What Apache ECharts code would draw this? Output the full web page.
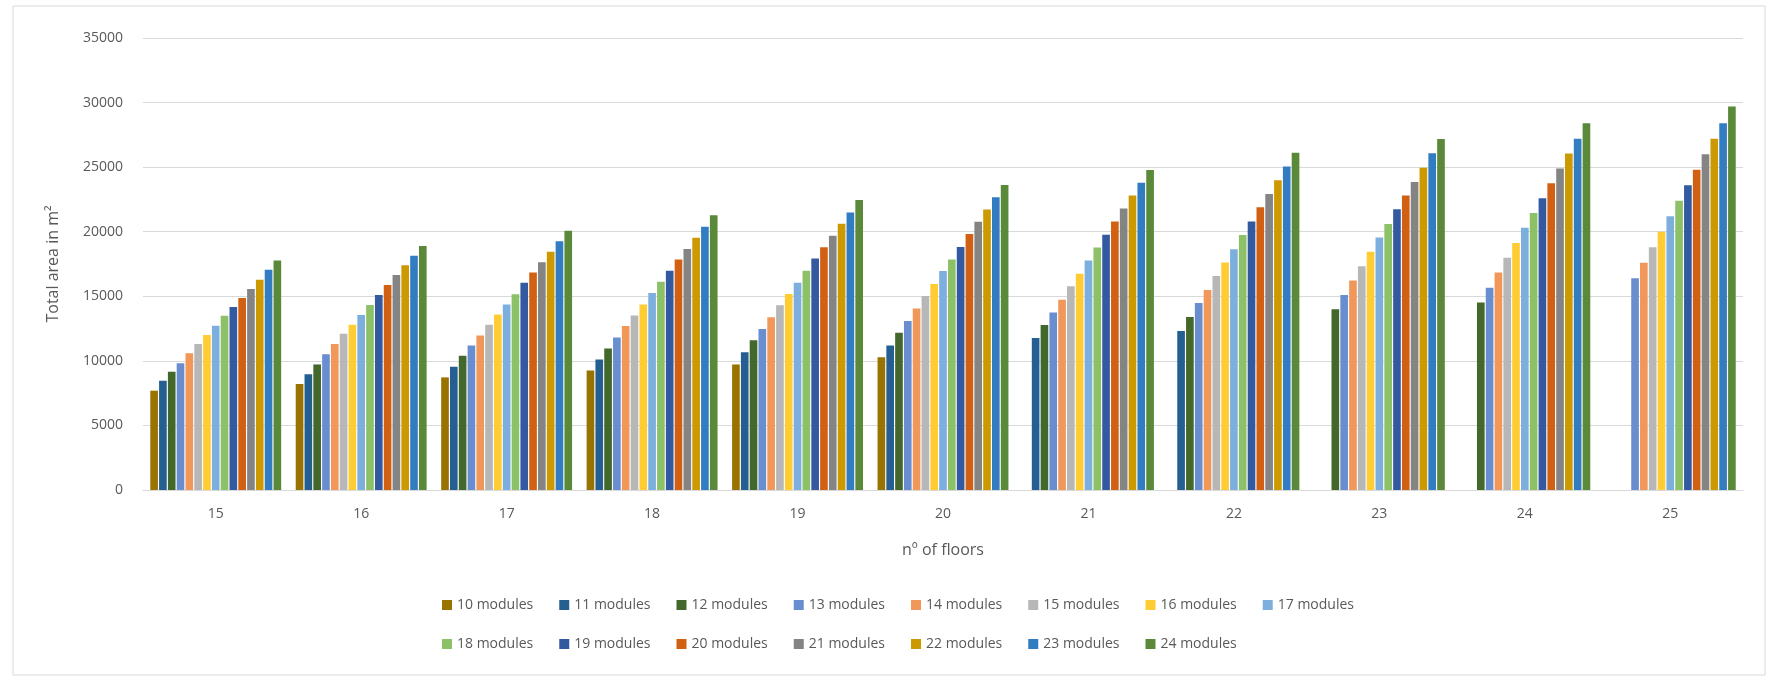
<!DOCTYPE html>
<html>
<head>
<meta charset="utf-8">
<script src="https://cdn.jsdelivr.net/npm/echarts@6/dist/echarts.min.js"></script>
<style>
html,body{margin:0;padding:0;background:#fff;}
#chart{width:1777px;height:682px;}
</style>
</head>
<body>
<div id="chart"></div>
<script>
const categories = ['15','16','17','18','19','20','21','22','23','24','25'];
const seriesNames = ['10 modules','11 modules','12 modules','13 modules','14 modules','15 modules','16 modules','17 modules','18 modules','19 modules','20 modules','21 modules','22 modules','23 modules','24 modules'];
const colors = ['#997300','#255E91','#43682B','#698ED0','#F1975A','#B7B7B7','#FFCD33','#7CAFDD','#8CC168','#335AA1','#D26012','#848484','#CC9A00','#327DC2','#5A8A39'];

const m10 = [7690, 8210, 8720, 9260, 9720, 10280, null, null, null, null, null];
const m11 = [8460, 8970, 9540, 10100, 10670, 11180, 11770, 12310, null, null, null];
const m12 = [9150, 9720, 10390, 10950, 11590, 12180, 12770, 13390, 13990, 14520, null];
const m13 = [9820, 10510, 11180, 11800, 12460, 13080, 13740, 14480, 15100, 15660, 16400];
const m14 = [10590, 11310, 11970, 12690, 13370, 14050, 14740, 15490, 16220, 16850, 17600];
const m15 = [11310, 12100, 12800, 13510, 14310, 15030, 15770, 16580, 17330, 17980, 18800];
const m16 = [12000, 12800, 13590, 14360, 15180, 15950, 16740, 17620, 18450, 19120, 20000];
const m17 = [12720, 13560, 14360, 15260, 16050, 16950, 17770, 18650, 19560, 20310, 21200];
const m18 = [13490, 14330, 15150, 16130, 16970, 17850, 18770, 19740, 20600, 21450, 22400];
const m19 = [14180, 15100, 16050, 16970, 17920, 18820, 19770, 20800, 21740, 22600, 23600];
const m20 = [14870, 15870, 16850, 17850, 18800, 19820, 20800, 21890, 22800, 23750, 24800];
const m21 = [15560, 16640, 17640, 18670, 19690, 20770, 21800, 22930, 23850, 24900, 26000];
const m22 = [16280, 17410, 18440, 19540, 20620, 21720, 22800, 23990, 24960, 26050, 27200];
const m23 = [17050, 18130, 19260, 20390, 21490, 22670, 23800, 25050, 26070, 27200, 28400];
const m24 = [17770, 18900, 20080, 21280, 22460, 23620, 24770, 26110, 27180, 28400, 29700];

const allData = [m10,m11,m12,m13,m14,m15,m16,m17,m18,m19,m20,m21,m22,m23,m24];

const FONT = 'Open Sans';
const series = allData.map((d, i) => ({
  name: seriesNames[i],
  type: 'bar',
  data: d,
  barGap: '15%',
  barCategoryGap: '10%',
  itemStyle: { color: colors[i] },
  emphasis: { disabled: true }
}));

const legendCommon = {
  left: 437,
  itemWidth: 10,
  itemHeight: 10,
  itemGap: 26,
  icon: 'rect',
  textStyle: { fontFamily: FONT, fontSize: 14, color: '#595959' },
  selectedMode: false
};

const chart = echarts.init(document.getElementById('chart'), null, { renderer: 'canvas' });
chart.setOption({
  animation: false,
  color: colors,
  textStyle: { fontFamily: FONT },
  graphic: [{
    type: 'rect',
    shape: { x: 13, y: 6, width: 1752, height: 669 },
    style: { fill: 'none', stroke: '#d9d9d9', lineWidth: 1 }
  }],
  legend: [
    Object.assign({}, legendCommon, { top: 593, data: seriesNames.slice(0, 8) }),
    Object.assign({}, legendCommon, { top: 632, data: seriesNames.slice(8) })
  ],
  grid: { left: 143, right: 34, top: 38, bottom: 192, containLabel: false },
  xAxis: {
    type: 'category',
    data: categories,
    name: 'nº of floors',
    nameLocation: 'middle',
    nameGap: 52,
    nameTextStyle: { fontFamily: FONT, fontSize: 16, color: '#595959' },
    axisLine: { lineStyle: { color: '#d9d9d9' } },
    axisTick: { show: false },
    axisLabel: { fontFamily: FONT, fontSize: 14, color: '#595959', margin: 17 }
  },
  yAxis: {
    type: 'value',
    min: 0,
    max: 35000,
    interval: 5000,
    name: 'Total area in m²',
    nameLocation: 'middle',
    nameGap: 82,
    nameTextStyle: { fontFamily: FONT, fontSize: 16, color: '#595959' },
    axisLine: { show: false },
    axisTick: { show: false },
    axisLabel: { fontFamily: FONT, fontSize: 14, color: '#595959', margin: 20, formatter: v => String(v) },
    splitLine: { lineStyle: { color: '#d9d9d9' } }
  },
  series: series
});
</script>
</body>
</html>
